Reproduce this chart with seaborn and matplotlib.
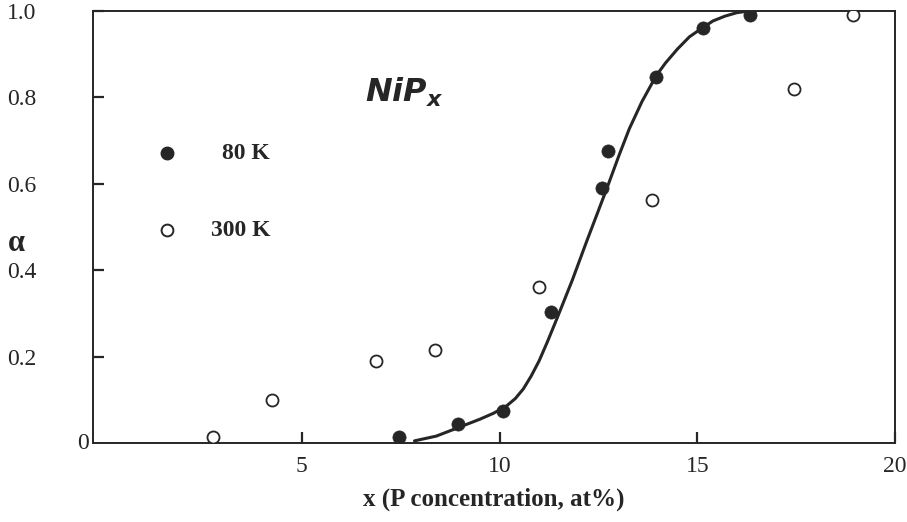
import matplotlib
matplotlib.use('Agg')
import pandas as pd
import matplotlib.pyplot as plt
import seaborn as sns

# values
x_80k = [7.47, 8.94, 10.1, 11.31, 12.6, 12.75, 13.96, 15.15, 16.34]
alpha_80k = [0.014, 0.044, 0.074, 0.303, 0.59, 0.676, 0.847, 0.96, 0.99]
x_300k = [2.75, 4.24, 6.87, 8.36, 11.0, 13.86, 17.45, 18.94]
alpha_300k = [0.014, 0.10, 0.19, 0.215, 0.36, 0.563, 0.82, 0.99]
fit_x = [7.85, 8.4, 8.91, 9.5, 9.85, 10.18, 10.4, 10.6, 10.8, 11.0, 11.2, 11.46,
         11.84, 12.2, 12.7, 13.03, 13.28, 13.6, 13.96, 14.2, 14.5, 14.8, 15.13,
         15.4, 15.7, 16.0, 16.31]
fit_alpha = [0.005, 0.016, 0.034, 0.055, 0.069, 0.086, 0.103, 0.125, 0.155, 0.19,
             0.232, 0.29, 0.377, 0.466, 0.586, 0.668, 0.727, 0.79, 0.85, 0.88,
             0.912, 0.94, 0.961, 0.977, 0.988, 0.996, 1.0]
x_ticks = [5, 10, 15, 20]
y_ticks = [0.2, 0.4, 0.6, 0.8, 1.0]

ink = '#262626'
sns.set_style('ticks')
plt.rcParams['font.family'] = ['Liberation Serif', 'DejaVu Serif']
plt.rcParams['mathtext.fontset'] = 'custom'
plt.rcParams['mathtext.it'] = 'DejaVu Sans:italic:bold'
plt.rcParams['mathtext.rm'] = 'DejaVu Sans:bold'

df80 = pd.DataFrame({'x': x_80k, 'alpha': alpha_80k})
df300 = pd.DataFrame({'x': x_300k, 'alpha': alpha_300k})
dffit = pd.DataFrame({'x': fit_x, 'alpha': fit_alpha})

fig = plt.figure(figsize=(9.07, 5.22), dpi=100)
ax = fig.add_axes([0.1025, 0.1513, 0.8843, 0.8277])

sns.lineplot(data=dffit, x='x', y='alpha', ax=ax, color=ink, linewidth=2.2,
             sort=False, estimator=None)
sns.scatterplot(data=df80, x='x', y='alpha', ax=ax, color=ink, s=90,
                edgecolor=ink, linewidth=0.5, zorder=3)
sns.scatterplot(data=df300, x='x', y='alpha', ax=ax, facecolor='white', s=75,
                edgecolor=ink, linewidth=1.3, zorder=3)

ax.set_xlim(-0.28, 20)
ax.set_ylim(0, 1.0)
ax.set_xticks(x_ticks)
ax.set_xticklabels([str(t) for t in x_ticks])
ax.set_yticks(y_ticks)
ax.set_yticklabels(['%.1f' % t for t in y_ticks])
ax.tick_params(axis='x', direction='in', length=8, width=1.6, pad=9,
               labelsize=17, colors=ink)
ax.tick_params(axis='y', direction='in', length=8, width=1.6, pad=62,
               labelsize=17, colors=ink)
for lab in ax.get_yticklabels():
    lab.set_horizontalalignment('left')
for sp in ax.spines.values():
    sp.set_visible(True)
    sp.set_linewidth(1.4)
    sp.set_color(ink)

ax.annotate('0', xy=(0, 0), xycoords='axes fraction', xytext=(-3, 0),
            textcoords='offset points', ha='right', va='center',
            fontsize=17, color=ink)
ax.set_xlabel('x (P concentration, at%)', fontsize=18, fontweight='bold',
              color=ink, labelpad=8)
ax.set_ylabel('')
ax.text(-0.095, 0.462, 'α', transform=ax.transAxes, fontsize=22,
        fontweight='bold', color=ink, ha='center', va='center')

# legend drawn by hand
ax.plot([0.092], [0.671], 'o', transform=ax.transAxes, color=ink,
        markersize=9)
ax.plot([0.092], [0.493], 'o', transform=ax.transAxes, color=ink,
        markerfacecolor='white', markeredgewidth=1.4, markersize=8.5)
ax.text(0.221, 0.671, '80 K', transform=ax.transAxes, ha='right', va='center',
        fontsize=17, fontweight='bold', color=ink)
ax.text(0.221, 0.493, '300 K', transform=ax.transAxes, ha='right', va='center',
        fontsize=17, fontweight='bold', color=ink)

ax.text(0.339, 0.812, r'$\mathit{NiP}_{x}$', transform=ax.transAxes,
        ha='left', va='center', fontsize=23, color=ink)

fig.savefig('out.png', dpi=100)
